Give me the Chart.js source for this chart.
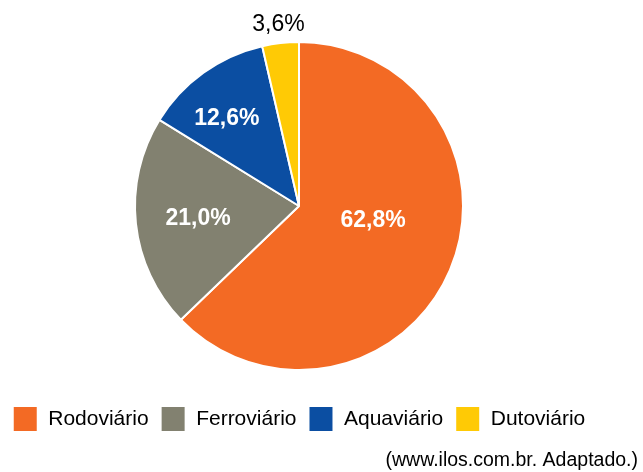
<!DOCTYPE html>
<html>
<head>
<meta charset="utf-8">
<script src="https://cdn.jsdelivr.net/npm/chart.js@4"></script>
<style>
  html, body { margin: 0; padding: 0; background: #fff; }
  #wrap { width: 643px; height: 472px; }
</style>
</head>
<body>
<div id="wrap"><canvas id="modais-chart" width="643" height="472"></canvas></div>
<script>
const modais = ['Rodoviário', 'Ferroviário', 'Aquaviário', 'Dutoviário']
const participacao = [62.8, 21.0, 12.6, 3.6]
const cores = ['#F36A24', '#828170', '#0B4EA2', '#FFCA05']
const fonte = '(www.ilos.com.br. Adaptado.)'

// where each percentage sits: fraction of radius and shift from mid angle (deg)
const label_radius = [0.46, 0.62, 0.69, 1.11]
const label_shift = [-12, -1, -4, 0]

const fmt = v => v.toFixed(1).replace('.', ',') + '%'

const slice_labels = {
  id: 'slice_labels',
  afterDatasetsDraw(chart) {
    const ctx = chart.ctx
    const meta = chart.getDatasetMeta(0)
    ctx.save()
    ctx.textAlign = 'center'
    ctx.textBaseline = 'middle'
    meta.data.forEach(function(arc, i) {
      const p = arc.getProps(['x', 'y', 'startAngle', 'endAngle', 'outerRadius'], true)
      const mid = (p.startAngle + p.endAngle) / 2 + label_shift[i] * Math.PI / 180
      const r = p.outerRadius * label_radius[i]
      const outside = label_radius[i] > 1
      ctx.fillStyle = outside ? '#000' : '#fff'
      ctx.font = (outside ? '' : 'bold ') + '23px "Liberation Sans", Arial, sans-serif'
      ctx.fillText(fmt(participacao[i]), p.x + Math.cos(mid) * r, p.y + Math.sin(mid) * r)
    })
    ctx.restore()
  }
}

const source_note = {
  id: 'source_note',
  afterDraw(chart) {
    const ctx = chart.ctx
    ctx.save()
    ctx.font = '19.5px "Liberation Sans", Arial, sans-serif'
    ctx.fillStyle = '#000'
    ctx.textAlign = 'right'
    ctx.textBaseline = 'middle'
    ctx.fillText(fonte, chart.width - 5, 461)
    ctx.restore()
  }
}

new Chart(document.getElementById('modais-chart').getContext('2d'), {
  type: 'pie',
  data: {
    labels: modais,
    datasets: [{
      data: participacao,
      backgroundColor: cores,
      borderColor: '#fff',
      borderWidth: 2,
      radius: 164
    }]
  },
  options: {
    responsive: false,
    animation: false,
    layout: { padding: { top: 18, right: 45, bottom: 30, left: 0 } },
    plugins: {
      tooltip: { enabled: false },
      legend: {
        position: 'bottom',
        labels: {
          boxWidth: 25,
          boxHeight: 26,
          padding: 12,
          color: '#000',
          font: { family: '"Liberation Sans", Arial, sans-serif', size: 21 }
        }
      }
    }
  },
  plugins: [slice_labels, source_note]
})
</script>
</body>
</html>
